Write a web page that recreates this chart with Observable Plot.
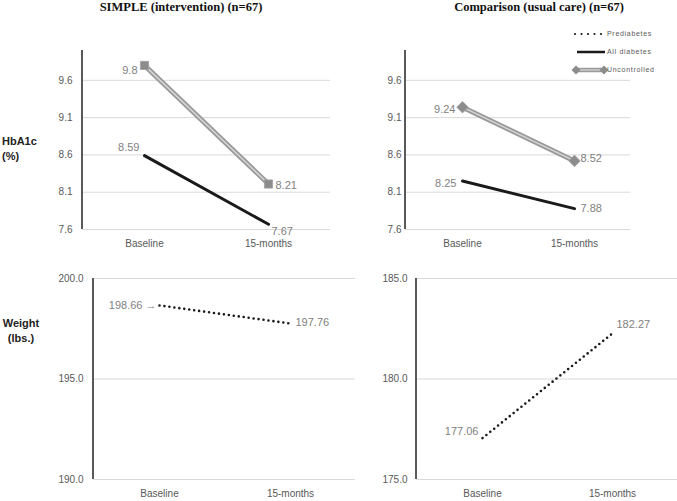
<!DOCTYPE html>
<html>
<head>
<meta charset="utf-8">
<script src="https://cdn.jsdelivr.net/npm/d3@7"></script>
<script src="https://cdn.jsdelivr.net/npm/@observablehq/plot@0.6"></script>
<style>
  body { margin: 0; background: #fff; }
  #root { position: relative; width: 677px; height: 501px; overflow: hidden; background: #fff; }
  .abs { position: absolute; }
  .title { font-family: "Liberation Serif", "DejaVu Serif", serif; font-weight: bold; font-size: 12.5px; color: #111; white-space: nowrap; transform: translateX(-50%); }
  .ylab { font-family: "Liberation Sans", Arial, sans-serif; font-weight: bold; font-size: 11px; color: #222; line-height: 15px; }
  .legend text { font-family: "Liberation Sans", Arial, sans-serif; font-size: 7px; fill: #595959; letter-spacing: 0.7px; }
  svg { background: transparent !important; }
</style>
</head>
<body>
<div id="root"></div>
<script>
const timepoints = ["Baseline", "15-months"];
const simpleAllDiabetes = [8.59, 7.67];
const simpleUncontrolled = [9.8, 8.21];
const usualAllDiabetes = [8.25, 7.88];
const usualUncontrolled = [9.24, 8.52];
const simplePrediabetesWeight = [198.66, 197.76];
const usualPrediabetesWeight = [177.06, 182.27];
const hbaTicks = [7.6, 8.1, 8.6, 9.1, 9.6];
const hbaDomain = [7.6, 10.0];
const simpleWeightTicks = [190, 195, 200];
const simpleWeightDomain = [190, 200];
const usualWeightTicks = [175, 180, 185];
const usualWeightDomain = [175, 185];
const titles = ["SIMPLE (intervention) (n=67)", "Comparison (usual care) (n=67)"];
const seriesNames = ["Prediabetes", "All diabetes", "Uncontrolled"];

const root = document.getElementById("root");
const rows = vals => timepoints.map((t, i) => ({t, v: vals[i], i}));

function axisLine(...args) {
  const dims = args.find(a => a && a.marginLeft !== undefined) || args[3];
  const l = document.createElementNS("http://www.w3.org/2000/svg", "line");
  l.setAttribute("x1", dims.marginLeft);
  l.setAttribute("x2", dims.marginLeft);
  l.setAttribute("y1", dims.marginTop);
  l.setAttribute("y2", dims.height - dims.marginBottom);
  l.setAttribute("stroke", "#595959");
  l.setAttribute("stroke-width", 2);
  return l;
}

function panel({left, top, width, height, margins, domain, ticks, tickPadding, marks}) {
  const chart = Plot.plot({
    width, height,
    marginLeft: margins[0], marginRight: margins[1], marginTop: margins[2], marginBottom: margins[3],
    style: {fontFamily: "Liberation Sans, Arial, sans-serif", fontSize: "10px", color: "#595959", background: "transparent", overflow: "visible"},
    x: {type: "point", domain: timepoints, padding: 0.5, tickSize: 0, tickPadding: 10, label: null},
    y: {domain, ticks, tickSize: 0, tickPadding, tickFormat: d => d.toFixed(1), label: null},
    marks: [
      Plot.ruleY(ticks, {stroke: "#d9d9d9", strokeWidth: 1}),
      axisLine,
      ...marks
    ]
  });
  chart.classList.add("abs");
  chart.style.left = left + "px";
  chart.style.top = top + "px";
  root.appendChild(chart);
}

const labelStyle = {fill: "#7f7f7f", fontSize: 11, fontFamily: "Liberation Sans, Arial, sans-serif"};
function labels(vals, specs, fmt) {
  return rows(vals).map((d, i) => Plot.text([d], {
    x: "t", y: "v", text: r => fmt ? fmt(r, i) : String(r.v),
    dx: specs[i].dx, dy: specs[i].dy, textAnchor: specs[i].anchor, ...labelStyle
  }));
}

function uncontrolled(vals, symbol, r) {
  return [
    Plot.line(rows(vals), {x: "t", y: "v", stroke: "#9a9a9a", strokeWidth: 5}),
    Plot.line(rows(vals), {x: "t", y: "v", stroke: "#d6d6d6", strokeWidth: 1.5}),
    Plot.dot(rows(vals), {x: "t", y: "v", symbol, r, fill: "#8c8c8c", stroke: "#a0a0a0", strokeWidth: 0.8})
  ];
}
function allDiabetes(vals) {
  return [Plot.line(rows(vals), {x: "t", y: "v", stroke: "#1a1a1a", strokeWidth: 3})];
}
function prediabetes(vals) {
  return [Plot.line(rows(vals), {x: "t", y: "v", stroke: "#1a1a1a", strokeWidth: 2.6, strokeDasharray: "0 5", strokeLinecap: "round"})];
}

// Top-left
panel({
  left: 0, top: 0, width: 340, height: 250, margins: [82, 10, 50, 21],
  domain: hbaDomain, ticks: hbaTicks, tickPadding: 10,
  marks: [
    ...allDiabetes(simpleAllDiabetes),
    ...uncontrolled(simpleUncontrolled, "square", 4.6),
    ...labels(simpleUncontrolled, [{dx: -7, dy: 5, anchor: "end"}, {dx: 7, dy: 1, anchor: "start"}]),
    ...labels(simpleAllDiabetes, [{dx: -5, dy: -8, anchor: "end"}, {dx: 3, dy: 7, anchor: "start"}])
  ]
});
// Top-right
panel({
  left: 340, top: 0, width: 337, height: 250, margins: [65, 47, 50, 21],
  domain: hbaDomain, ticks: hbaTicks, tickPadding: 4,
  marks: [
    ...allDiabetes(usualAllDiabetes),
    ...uncontrolled(usualUncontrolled, "diamond2", 5.2),
    ...labels(usualUncontrolled, [{dx: -7, dy: 2, anchor: "end"}, {dx: 6, dy: -2, anchor: "start"}]),
    ...labels(usualAllDiabetes, [{dx: -6, dy: 2, anchor: "end"}, {dx: 6, dy: 0, anchor: "start"}])
  ]
});
// Bottom-left
panel({
  left: 0, top: 250, width: 356, height: 251, margins: [93, 1, 28, 22],
  domain: simpleWeightDomain, ticks: simpleWeightTicks, tickPadding: 10,
  marks: [
    ...prediabetes(simplePrediabetesWeight),
    ...labels(simplePrediabetesWeight, [{dx: -3, dy: 0, anchor: "end"}, {dx: 5, dy: -1, anchor: "start"}],
      (r, i) => i === 0 ? r.v.toFixed(2) + " \u2192" : r.v.toFixed(2))
  ]
});
// Bottom-right
panel({
  left: 340, top: 250, width: 337, height: 251, margins: [76, 0, 28, 22],
  domain: usualWeightDomain, ticks: usualWeightTicks, tickPadding: 9,
  marks: [
    ...prediabetes(usualPrediabetesWeight),
    ...labels(usualPrediabetesWeight, [{dx: -4, dy: -7, anchor: "end"}, {dx: 4, dy: -9, anchor: "start"}],
      r => r.v.toFixed(2))
  ]
});

// Titles
[[181, titles[0]], [539, titles[1]]].forEach(([x, t]) => {
  const d = document.createElement("div");
  d.className = "abs title";
  d.style.left = x + "px";
  d.style.top = "0px";
  d.textContent = t;
  root.appendChild(d);
});

// Y labels
const yl1 = document.createElement("div");
yl1.className = "abs ylab";
yl1.style.left = "2px"; yl1.style.top = "134px";
yl1.innerHTML = "HbA1c<br>(%)";
root.appendChild(yl1);
const yl2 = document.createElement("div");
yl2.className = "abs ylab";
yl2.style.left = "0px"; yl2.style.top = "316px"; yl2.style.width = "42px"; yl2.style.textAlign = "center";
yl2.innerHTML = "Weight<br>(lbs.)";
root.appendChild(yl2);

// Legend
const ns = "http://www.w3.org/2000/svg";
const lg = document.createElementNS(ns, "svg");
lg.setAttribute("class", "abs legend");
lg.setAttribute("width", 110); lg.setAttribute("height", 60);
lg.style.left = "570px"; lg.style.top = "22px";
function el(name, attrs, parent) {
  const e = document.createElementNS(ns, name);
  for (const k in attrs) e.setAttribute(k, attrs[k]);
  (parent || lg).appendChild(e);
  return e;
}
el("line", {x1: 5, x2: 35, y1: 12, y2: 12, stroke: "#1a1a1a", "stroke-width": 2.2, "stroke-dasharray": "0 6.5", "stroke-linecap": "round"});
el("line", {x1: 7, x2: 35, y1: 30, y2: 30, stroke: "#1a1a1a", "stroke-width": 2.5});
el("line", {x1: 6, x2: 34, y1: 48, y2: 48, stroke: "#9a9a9a", "stroke-width": 4.5});
el("line", {x1: 6, x2: 34, y1: 48, y2: 48, stroke: "#d6d6d6", "stroke-width": 1.3});
[6, 34].forEach(x => el("path", {d: `M${x},${48 - 4.5}L${x + 4.5},48L${x},${48 + 4.5}L${x - 4.5},48Z`, fill: "#8c8c8c"}));
seriesNames.forEach((n, i) => {
  const t = el("text", {x: 37, y: 12 + 18 * i, dy: "0.35em"});
  t.textContent = n;
});
root.appendChild(lg);
</script>
</body>
</html>
